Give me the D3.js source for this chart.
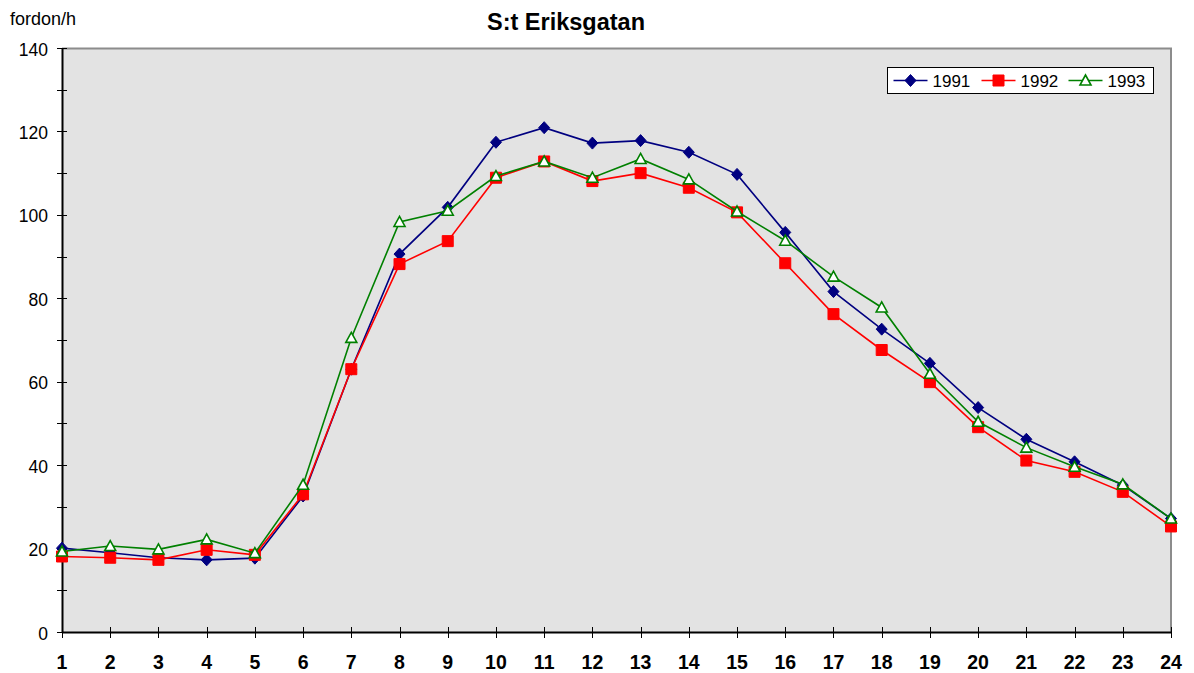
<!DOCTYPE html>
<html>
<head>
<meta charset="utf-8">
<script src="https://cdn.jsdelivr.net/npm/d3@7"></script>
<style>
body { margin: 0; background: #fff; }
text { font-family: "Liberation Sans", Arial, sans-serif; }
</style>
</head>
<body>
<script>
// hours of day
var hours = d3.range(1, 25);

var v1991 = [20.1, 19.0, 17.8, 17.3, 17.7, 32.6, 63.0, 90.6, 101.8, 117.4, 120.9, 117.2,
             117.8, 115.0, 109.7, 95.8, 81.6, 72.6, 64.4, 53.8, 46.2, 40.8, 35.2, 27.2];
var v1992 = [18.1, 17.8, 17.3, 19.7, 18.5, 33.0, 63.0, 88.2, 93.7, 108.9, 112.8, 108.1,
             110.0, 106.5, 100.6, 88.4, 76.2, 67.6, 59.9, 49.1, 41.1, 38.4, 33.6, 25.3];
var v1993 = [19.3, 20.6, 19.8, 22.2, 18.9, 35.3, 70.5, 98.3, 101.0, 109.3, 112.8, 108.9,
             113.4, 108.5, 100.8, 93.8, 85.2, 77.8, 61.9, 50.4, 44.2, 39.6, 35.4, 27.2];

var yTicks = d3.range(0, 141, 20);

var series = [
    {name: "1991", values: v1991, color: "#000080", marker: "diamond"},
    {name: "1992", values: v1992, color: "#ff0000", marker: "square"},
    {name: "1993", values: v1993, color: "#008000", marker: "triangle"}
];

var W = 1194, H = 673;
var margin = {top: 48, right: 23, bottom: 41, left: 62},
    width = W - margin.left - margin.right,
    height = H - margin.top - margin.bottom;

var svg = d3.select("body")
    .append("svg")
    .attr("width", W)
    .attr("height", H);

var g = svg.append("g")
    .attr("transform", "translate(" + margin.left + "," + margin.top + ")");

var x = d3.scaleLinear().domain([1, 24]).range([0, width]);
var y = d3.scaleLinear().domain([0, 140]).range([height, 0]);

// plot background + frame
g.append("rect")
    .attr("width", width)
    .attr("height", height)
    .attr("fill", "#e3e3e3");

g.append("path")
    .attr("d", "M0,0.5H" + width + "V" + height)
    .attr("fill", "none")
    .attr("stroke", "#8c8c8c")
    .attr("stroke-width", 2);

// y axis: major ticks every 20, minor every 10
g.append("g")
    .selectAll("line")
    .data(d3.range(0, 141, 10))
    .enter()
        .append("line")
        .attr("x1", -5)
        .attr("x2", 5)
        .attr("y1", function(d) { return Math.round(y(d)) + 0.5; })
        .attr("y2", function(d) { return Math.round(y(d)) + 0.5; })
        .attr("stroke", "#000");

g.append("g")
    .selectAll("text")
    .data(yTicks)
    .enter()
        .append("text")
        .attr("x", -14)
        .attr("y", function(d) { return y(d); })
        .attr("dy", 7.5)
        .attr("text-anchor", "end")
        .attr("font-size", 17.5)
        .text(function(d) { return d; });

g.append("line")
    .attr("x1", 0.5).attr("x2", 0.5)
    .attr("y1", 0).attr("y2", height)
    .attr("stroke", "#000")
    .attr("stroke-width", 2);

// x axis
g.append("g")
    .selectAll("line")
    .data(hours)
    .enter()
        .append("line")
        .attr("x1", function(d) { return Math.round(x(d)) + 0.5; })
        .attr("x2", function(d) { return Math.round(x(d)) + 0.5; })
        .attr("y1", height - 5)
        .attr("y2", height + 6)
        .attr("stroke", "#000");

g.append("g")
    .selectAll("text")
    .data(hours)
    .enter()
        .append("text")
        .attr("x", function(d) { return x(d); })
        .attr("y", height + 37)
        .attr("text-anchor", "middle")
        .attr("font-size", 19.5)
        .attr("font-weight", "bold")
        .text(function(d) { return d; });

g.append("line")
    .attr("x1", 0).attr("x2", width)
    .attr("y1", height + 0.5).attr("y2", height + 0.5)
    .attr("stroke", "#000")
    .attr("stroke-width", 2);

// title and unit
svg.append("text")
    .attr("x", 566)
    .attr("y", 30)
    .attr("text-anchor", "middle")
    .attr("font-size", 23.5)
    .attr("font-weight", "bold")
    .text("S:t Eriksgatan");

svg.append("text")
    .attr("x", 10)
    .attr("y", 25)
    .attr("font-size", 18)
    .text("fordon/h");

function markerPath(type) {
    if (type == "diamond") return "M0,-6L5.5,0L0,6L-5.5,0Z";
    if (type == "square") return "M-5.5,-5.5H5.5V5.5H-5.5Z";
    return "M0,-5.5L5.5,4.5H-5.5Z";
}

function drawMarker(sel, s) {
    sel.append("path")
        .attr("d", markerPath(s.marker))
        .attr("fill", s.marker == "triangle" ? "#fff" : s.color)
        .attr("stroke", s.color)
        .attr("stroke-width", s.marker == "triangle" ? 1.6 : 1);
}

var line = d3.line()
    .x(function(d, i) { return x(hours[i]); })
    .y(function(d) { return y(d); });

series.forEach(function(s) {
    var sg = g.append("g").attr("class", "series");
    sg.append("path")
        .attr("d", line(s.values))
        .attr("fill", "none")
        .attr("stroke", s.color)
        .attr("stroke-width", 1.6);
    sg.selectAll(".pt")
        .data(s.values)
        .enter()
            .append("g")
            .attr("class", "pt")
            .attr("transform", function(d, i) { return "translate(" + x(hours[i]) + "," + y(d) + ")"; })
            .each(function() { drawMarker(d3.select(this), s); });
});

// legend
var legend = svg.append("g")
    .attr("transform", "translate(887.5,67.5)");

legend.append("rect")
    .attr("width", 266)
    .attr("height", 26)
    .attr("fill", "#fff")
    .attr("stroke", "#000");

var itemX = [6, 94, 181];
series.forEach(function(s, i) {
    var it = legend.append("g").attr("transform", "translate(" + itemX[i] + ",13)");
    it.append("line")
        .attr("x1", 0).attr("x2", 34)
        .attr("stroke", s.color)
        .attr("stroke-width", 1.6);
    var m = it.append("g").attr("transform", "translate(17,0)");
    drawMarker(m, s);
    it.append("text")
        .attr("x", 39)
        .attr("dy", "0.37em")
        .attr("font-size", 17)
        .text(s.name);
});
</script>
</body>
</html>
